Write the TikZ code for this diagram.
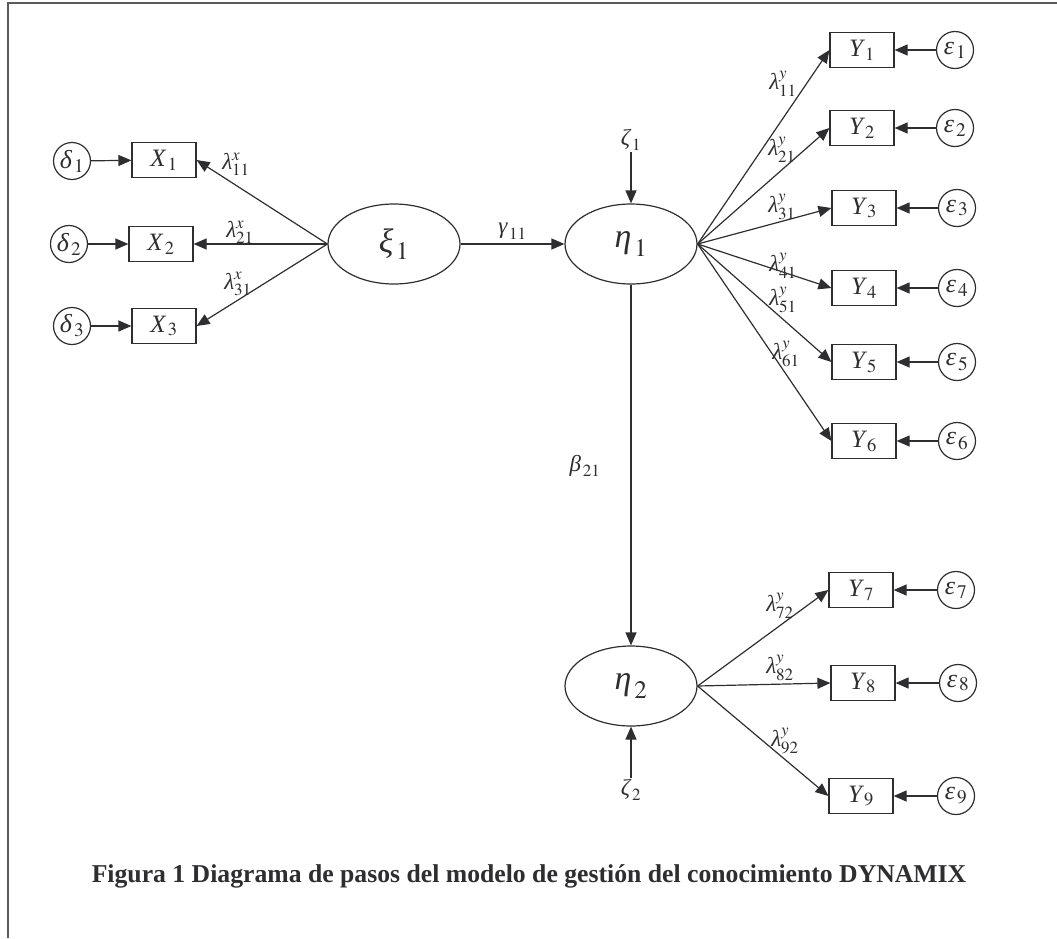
\documentclass[tikz,border=0pt]{standalone}
\usepackage{mathptmx}
\usepackage{fontspec}
\setmainfont{Liberation Serif}
\usepackage{tikz}
\usetikzlibrary{arrows.meta,shapes.geometric}
\definecolor{ink}{HTML}{2E2E30}
\definecolor{frame}{HTML}{5A5A5C}
\newcommand\vn[2]{$\mbox{\itshape #1}_{\,#2}$}
\newcommand\lam[2]{$\mbox{\itshape λ}^{#1}_{#2}$}

\begin{document}
\begin{tikzpicture}[x=1pt,y=-1pt,color=ink,line width=1.2pt,
obs/.style={draw,minimum width=64pt,minimum height=35pt,inner sep=0pt,font=\fontsize{25}{25}\selectfont},
err/.style={draw,circle,minimum size=37pt,inner sep=0pt,font=\fontsize{26}{26}\selectfont},
lat/.style={draw,ellipse,minimum width=132pt,minimum height=80pt,inner sep=0pt,font=\fontsize{34}{34}\selectfont},
lab/.style={inner sep=1pt,font=\fontsize{23}{23}\selectfont},
arr/.style={-{Triangle[length=13pt,width=11pt]}}]
\useasboundingbox (0,0) rectangle (1057,938);
\draw[frame,line width=1.8pt](1057,3)--(8,3)--(8,938);
% latent variables
\node[lat](xi) at (394,244){\vn{ξ}{1}};
\node[lat](eta1) at (631,244){\vn{η}{1}};
\node[lat](eta2) at (631,686){\vn{η}{2}};
\node[lab](z1) at (631,140){\vn{ζ}{1}};
\node[lab](z2) at (631,790){\vn{ζ}{2}};
% x side
\node[obs](x1) at (164,160){\vn{X}{1}};\node[err](d1) at (72,161){\vn{δ}{1}};
\node[obs](x2) at (161,244){\vn{X}{2}};\node[err](d2) at (69,244){\vn{δ}{2}};
\node[obs](x3) at (164,326){\vn{X}{3}};\node[err](d3) at (72,326){\vn{δ}{3}};
% y side
\node[obs](y1) at (862,50){\vn{Y}{1}};\node[err](e1) at (955,50){\vn{ε}{1}};
\node[obs](y2) at (862,128){\vn{Y}{2}};\node[err](e2) at (955,128){\vn{ε}{2}};
\node[obs](y3) at (864,208){\vn{Y}{3}};\node[err](e3) at (957,208){\vn{ε}{3}};
\node[obs](y4) at (864,288){\vn{Y}{4}};\node[err](e4) at (957,288){\vn{ε}{4}};
\node[obs](y5) at (864,362){\vn{Y}{5}};\node[err](e5) at (957,362){\vn{ε}{5}};
\node[obs](y6) at (864,441){\vn{Y}{6}};\node[err](e6) at (957,441){\vn{ε}{6}};
\node[obs](y7) at (861,590){\vn{Y}{7}};\node[err](e7) at (956,590){\vn{ε}{7}};
\node[obs](y8) at (863,683){\vn{Y}{8}};\node[err](e8) at (958,683){\vn{ε}{8}};
\node[obs](y9) at (861,796){\vn{Y}{9}};\node[err](e9) at (956,796){\vn{ε}{9}};
% loadings
\node[lab](lx11) at (236,164){\lam{x}{11}};
\node[lab](lx21) at (240,232){\lam{x}{21}};
\node[lab](lx31) at (238,284){\lam{x}{31}};
\node[lab](ly11) at (783,84){\lam{y}{11}};
\node[lab](ly21) at (782,150){\lam{y}{21}};
\node[lab](ly31) at (782,207){\lam{y}{31}};
\node[lab](ly41) at (783,266){\lam{y}{41}};
\node[lab](ly51) at (783,300){\lam{y}{51}};
\node[lab](ly61) at (786,354){\lam{y}{61}};
\node[lab](ly72) at (780,606){\lam{y}{72}};
\node[lab](ly82) at (780,668){\lam{y}{82}};
\node[lab](ly92) at (785,741){\lam{y}{92}};
\node[lab](b21) at (585,466){\vn{β}{21}};
% paths
\draw[arr](xi)--node[lab,above=3pt]{\vn{γ}{11}}(eta1);
\draw[arr](eta1)--(eta2);
\draw[arr](z1)--(eta1);\draw[arr](z2)--(eta2);
\draw[arr](xi.west)--(x1.east);\draw[arr](xi.west)--(x2.east);\draw[arr](xi.west)--(x3.east);
\draw[arr](d1)--(x1);\draw[arr](d2)--(x2);\draw[arr](d3)--(x3);
\draw[arr](eta1.east)--(y1.west);\draw[arr](eta1.east)--(y2.west);\draw[arr](eta1.east)--(y3.west);
\draw[arr](eta1.east)--(y4.west);\draw[arr](eta1.east)--(y5.west);\draw[arr](eta1.east)--(y6.west);
\draw[arr](eta2.east)--(y7.west);\draw[arr](eta2.east)--(y8.west);\draw[arr](eta2.east)--(y9.west);
\draw[arr](e1)--(y1);\draw[arr](e2)--(y2);\draw[arr](e3)--(y3);
\draw[arr](e4)--(y4);\draw[arr](e5)--(y5);\draw[arr](e6)--(y6);
\draw[arr](e7)--(y7);\draw[arr](e8)--(y8);\draw[arr](e9)--(y9);
\node[font=\fontsize{25.7}{30}\selectfont\bfseries](cap) at (529,876){Figura 1 Diagrama de pasos del modelo de gestión del conocimiento DYNAMIX};
\end{tikzpicture}
\end{document}
